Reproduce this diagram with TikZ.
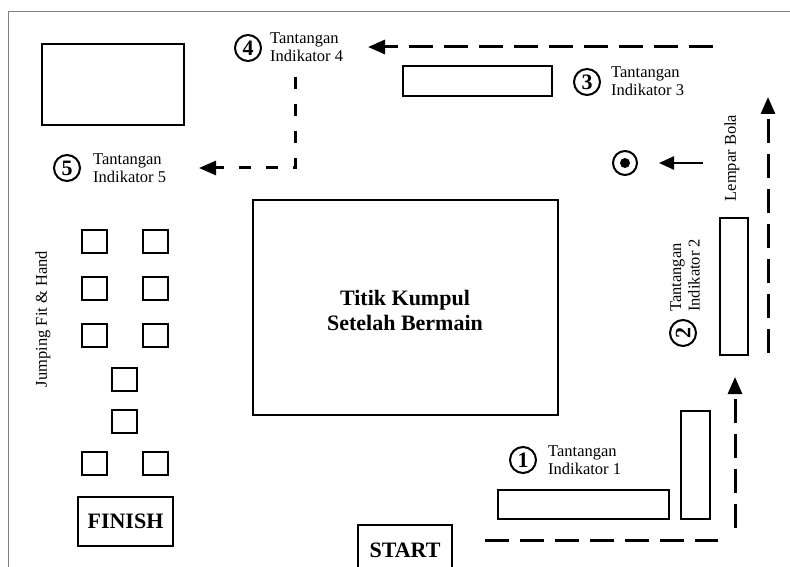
\documentclass[tikz,border=0pt]{standalone}
\usepackage{fontspec}
\setmainfont{Liberation Serif}
\usetikzlibrary{arrows.meta}

\begin{document}
\begin{tikzpicture}[line join=miter,>={Triangle[length=17pt,width=14pt]},x=1pt,y=-1pt,
  kotak/.style={draw,line width=2pt},
  rute/.style={line width=3pt,dash pattern=on 24pt off 11pt},
  rutependek/.style={line width=3pt,dash pattern=on 12pt off 15pt},
  nomor/.style={circle,draw,line width=2pt,minimum size=26pt,inner sep=0pt,font=\fontsize{22}{22}\selectfont\bfseries},
  teks/.style={anchor=west,align=left,inner sep=0pt,font=\fontsize{16.5}{18.5}\selectfont},
  judul/.style={inner sep=0pt,align=center,font=\fontsize{22}{25}\selectfont\bfseries}]
\useasboundingbox (0,0) rectangle (790,567);
%bingkai
\draw[color=gray,line width=1pt] (8,567) -- (8,12) -- (790,12);

%kotak-kotak
\draw[kotak] (42,44) rectangle (184,125);
\draw[kotak] (403,66) rectangle (552,96);
\draw[kotak] (720,218) rectangle (748,355);
\draw[kotak] (498,490) rectangle (669,519);
\draw[kotak] (681,411) rectangle (710,519);
\draw[kotak] (253,200) rectangle (558,415);
\node[judul] (kumpul) at (405,310) {Titik Kumpul\\Setelah Bermain};

%jumping
\foreach \x/\y in {82/230,143/230,82/277,143/277,82/324,143/324,112/368,112/410,82/452,143/452}
{
\draw[kotak] (\x,\y) rectangle ++(25,23);
}
\node[teks,anchor=center,rotate=90] (jumping) at (43,319) {Jumping Fit \& Hand};

%start dan finish
\draw[kotak] (78,497) rectangle (173,546);
\node[judul] (finish) at (125.5,521) {FINISH};
\draw[kotak] (358,567) -- (358,525) -- (452,525) -- (452,567);
\node[judul,anchor=base] (start) at (405,557) {START};

%tantangan
\node[nomor] (n1) at (523,460) {1};
\node[teks] (t1) at (548,460) {Tantangan\\Indikator 1};
\node[nomor,rotate=90] (n2) at (683,333) {2};
\node[teks,rotate=90] (t2) at (685,312) {Tantangan\\Indikator 2};
\node[nomor] (n3) at (587,82) {3};
\node[teks] (t3) at (611,81) {Tantangan\\Indikator 3};
\node[nomor] (n4) at (248,48) {4};
\node[teks] (t4) at (270,47) {Tantangan\\Indikator 4};
\node[nomor] (n5) at (67,168) {5};
\node[teks] (t5) at (93,168) {Tantangan\\Indikator 5};

%lempar bola
\node[circle,draw,line width=2pt,minimum size=24pt,inner sep=0pt] (sasaran) at (625,163) {};
\fill (sasaran) circle [radius=5pt];
\coordinate (lemparawal) at (703,163);
\draw[-{Triangle[length=15pt,width=13pt]},line width=2.4pt,shorten >=21pt] (lemparawal) -- (sasaran);
\node[teks,anchor=center,rotate=90] (lempar) at (732,158) {Lempar Bola};

%rute
\draw[rute] (485,540) -- (718,540);
\draw[rute,->] (735,528) -- (735,377);
\draw[rute,->] (768,353) -- (768,97);
\draw[rute,->] (713,47) -- (368,47);
\draw[rutependek,->] (295,77) -- (295,168) -- (199,168);
\end{tikzpicture}
\end{document}
